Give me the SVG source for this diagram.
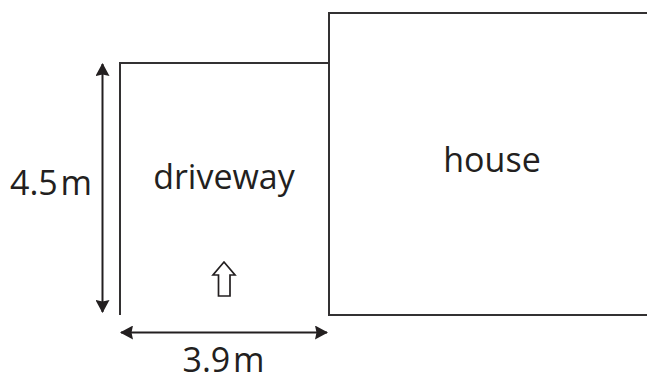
<svg xmlns="http://www.w3.org/2000/svg" width="647" height="374" viewBox="0 0 647 374">
<style>
.l{fill:none;stroke:#333132;stroke-width:2}
.d{fill:none;stroke:#231f20;stroke-width:2}
.t{font-family:"Open Sans","Noto Sans",sans-serif;font-size:34px;fill:#231f20}
.m{word-spacing:-6px}
</style>
<defs>
<marker id="a" viewBox="0 0 13 14" refX="12" refY="7" markerWidth="13" markerHeight="14" markerUnits="userSpaceOnUse" orient="auto-start-reverse"><path d="M0 0L13 7L0 14L1.5 7Z" fill="#231f20"/></marker>
</defs>
<rect width="647" height="374" fill="#fff"/>
<g id="house"><path class="l" d="M647 13H329V315H647"/><text class="t" x="492" y="171.500" text-anchor="middle">house</text></g>
<g id="driveway"><path class="l" d="M120 315V63H329V315"/><text class="t" x="224" y="189" text-anchor="middle">driveway</text></g>
<g id="connectors">
<line class="d" x1="102.500" y1="64" x2="102.500" y2="312" marker-start="url(#a)" marker-end="url(#a)"/>
<line class="d" x1="121" y1="332.500" x2="327" y2="332.500" marker-start="url(#a)" marker-end="url(#a)"/>
<path id="arrow" d="M224 262L235 275H230V296H218.500V275H213Z" fill="#fff" stroke="#231f20" stroke-width="1.700"/>
</g>
<text class="t m" x="51" y="195" text-anchor="middle">4.5 m</text>
<text class="t m" x="223.500" y="372" text-anchor="middle">3.9 m</text>
</svg>
